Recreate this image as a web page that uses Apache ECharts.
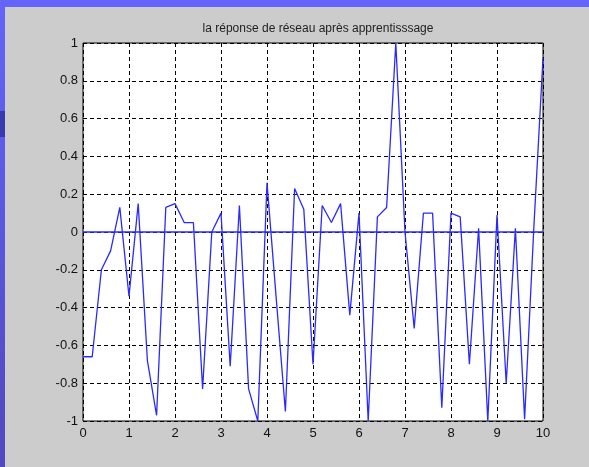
<!DOCTYPE html>
<html>
<head>
<meta charset="utf-8">
<script src="https://cdn.jsdelivr.net/npm/echarts@6/dist/echarts.min.js"></script>
<style>
  html, body { margin: 0; padding: 0; background: #cccccc; }
  #chart { width: 589px; height: 467px; }
</style>
</head>
<body>
<div id="chart"></div>
<script>
// x sampled every 0.2 from 0 to 10
var xValues = [0, 0.2, 0.4, 0.6, 0.8, 1, 1.2, 1.4, 1.6, 1.8, 2, 2.2, 2.4, 2.6, 2.8, 3, 3.2, 3.4, 3.6, 3.8,
  4, 4.2, 4.4, 4.6, 4.8, 5, 5.2, 5.4, 5.6, 5.8, 6, 6.2, 6.4, 6.6, 6.8, 7, 7.2, 7.4, 7.6, 7.8,
  8, 8.2, 8.4, 8.6, 8.8, 9, 9.2, 9.4, 9.6, 9.8, 10]
// reponse du reseau
var reponse = [-0.66, -0.66, -0.2, -0.1, 0.13, -0.34, 0.15, -0.68, -0.97, 0.13, 0.15, 0.05, 0.05, -0.83, 0, 0.1, -0.71, 0.14, -0.83, -1,
  0.26, -0.35, -0.95, 0.23, 0.12, -0.7, 0.14, 0.05, 0.15, -0.44, 0.1, -1, 0.08, 0.13, 1, 0, -0.51, 0.1, 0.1, -0.93,
  0.1, 0.08, -0.7, 0.02, -1, 0.09, -0.8, 0.02, -0.99, 0.02, 0.92]
// sortie desiree
var cible = xValues.map(function () { return 0 })
var yTicks = [-1, -0.8, -0.6, -0.4, -0.2, 0, 0.2, 0.4, 0.6, 0.8, 1]

var chart = echarts.init(document.getElementById('chart'), null, { renderer: 'canvas' })

function pairs (ys) {
  return xValues.map(function (x, i) { return [x, ys[i]] })
}

var option = {
  backgroundColor: '#cccccc',
  animation: false,
  title: {
    text: 'la réponse de réseau après apprentisssage',
    left: 313,
    textAlign: 'center',
    top: 18,
    textStyle: {
      fontFamily: 'Liberation Sans, Arial, sans-serif',
      fontSize: 12,
      fontWeight: 'normal',
      color: '#222222'
    }
  },
  graphic: [
    { type: 'rect', left: 0, top: 0, shape: { width: 589, height: 7 }, style: { fill: '#6464fa' } },
    {
      type: 'rect', left: 0, top: 0, shape: { width: 5, height: 467 },
      style: {
        fill: {
          type: 'linear', x: 0, y: 0, x2: 0, y2: 1,
          colorStops: [{ offset: 0, color: '#6464fa' }, { offset: 1, color: '#5048c0' }]
        }
      }
    },
    { type: 'rect', left: 0, top: 111, shape: { width: 5, height: 26 }, style: { fill: '#3838b0' } }
  ],
  grid: {
    left: 83,
    top: 43,
    width: 460,
    height: 378,
    show: true,
    backgroundColor: '#ffffff',
    borderColor: '#000000',
    borderWidth: 1
  },
  xAxis: {
    type: 'value',
    min: 0,
    max: 10,
    interval: 1,
    axisLine: { show: false },
    axisTick: { show: false },
    axisLabel: {
      margin: 6,
      fontFamily: 'Liberation Sans, Arial, sans-serif',
      fontSize: 13,
      color: '#111111'
    },
    splitLine: {
      show: true,
      lineStyle: { color: '#000000', type: [4, 3], width: 1 }
    }
  },
  yAxis: {
    type: 'value',
    min: -1,
    max: 1,
    interval: 0.2,
    axisLine: { show: false },
    axisTick: { show: false },
    axisLabel: {
      margin: 5,
      fontFamily: 'Liberation Sans, Arial, sans-serif',
      fontSize: 13,
      color: '#111111',
      formatter: function (v) {
        var r = Math.round(v * 10) / 10
        return yTicks.indexOf(r) >= 0 ? String(r) : ''
      }
    },
    splitLine: {
      show: true,
      lineStyle: { color: '#000000', type: [4, 3], width: 1 }
    }
  },
  series: [
    {
      name: 'cible',
      type: 'line',
      data: pairs(cible),
      symbol: 'none',
      lineStyle: { color: '#2a2aff', width: 1.4 },
      z: 3
    },
    {
      name: 'reponse',
      type: 'line',
      data: pairs(reponse),
      symbol: 'none',
      lineStyle: { color: '#2a2aff', width: 1.3 },
      z: 4
    }
  ]
}

chart.setOption(option)
</script>
</body>
</html>
